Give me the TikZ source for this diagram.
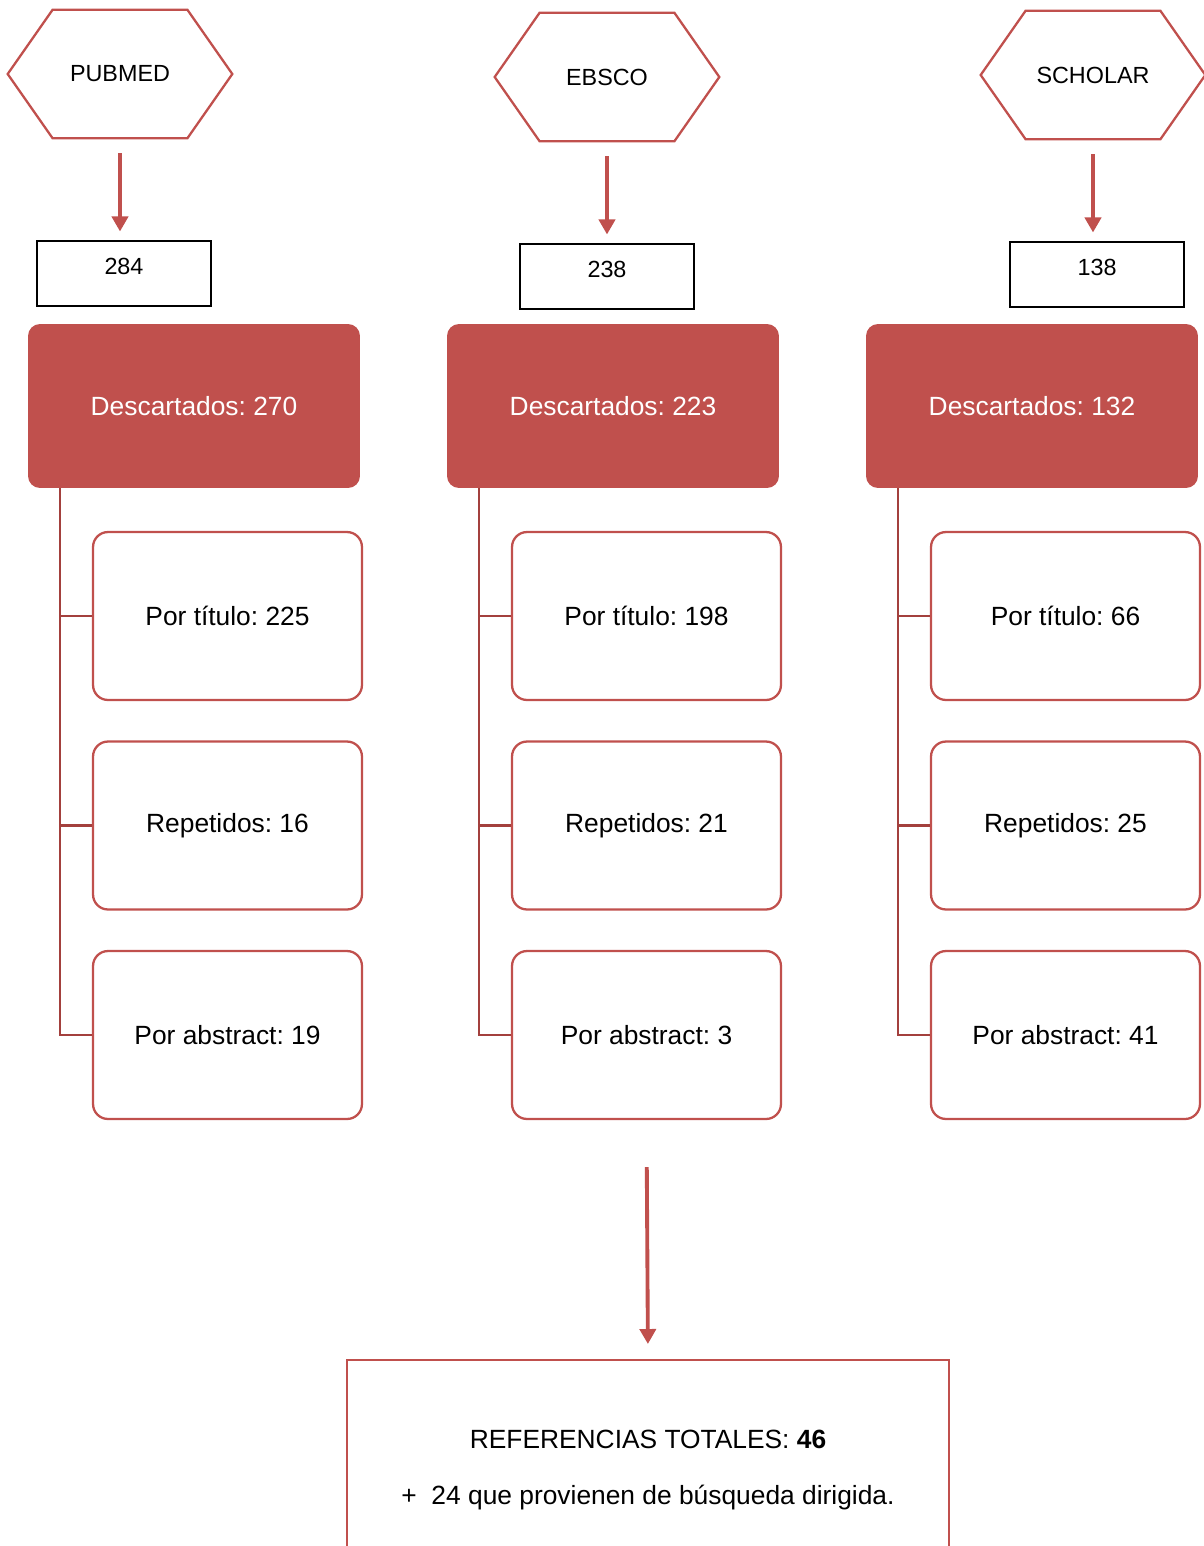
\documentclass[tikz,border=0pt]{standalone}
\usepackage{fontspec}
\setmainfont{Liberation Sans}
\usetikzlibrary{arrows.meta}
\definecolor{rojo}{HTML}{C0504D}
\definecolor{rojoosc}{HTML}{A3403D}
\frenchspacing

\begin{document}
\begin{tikzpicture}[x=0.02cm, y=-0.02cm,
	hexnode/.style={minimum width=4.48cm, minimum height=2.56cm, inner sep=0pt, font=\fontsize{13.3}{16}\selectfont},
	hexline/.style={draw=rojo, line width=1.3pt, line join=miter},
	numbox/.style={draw=black, line width=0.6pt, minimum width=3.48cm, minimum height=1.3cm, inner sep=0pt, text depth=0.3cm, font=\fontsize{13.3}{16}\selectfont},
	descbox/.style={fill=rojo, rounded corners=0.24cm, minimum width=6.64cm, minimum height=3.28cm, inner sep=0pt, text=white, font=\fontsize{15}{18}\selectfont},
	subbox/.style={draw=rojo, line width=1.3pt, rounded corners=0.3cm, minimum width=5.38cm, minimum height=3.36cm, inner sep=0pt, font=\fontsize{15}{18}\selectfont},
	totalbox/.style={draw=rojo, line width=1.3pt, minimum width=12.04cm, minimum height=4.4cm, anchor=north, align=center, font=\fontsize{15}{18}\selectfont},
	flecha/.style={draw=rojo, line width=2.2pt, -{Triangle[width=0.32cm, length=0.3cm]}},
	rama/.style={draw=rojoosc, line width=1.3pt}]
	% Rahmen (Seite)
	\clip (0,0) rectangle (1204,1546);
	
	% Spalten: Datenbank, Treffer, Descartados und Unterteilung
	\foreach \col/\hx/\nx/\dy/\name/\num/\ndesc/\ntit/\nrep/\nabs in {
		1/120/124/0/PUBMED/284/270/225/16/19,
		2/607/607/3/EBSCO/238/223/198/21/3,
		3/1093/1097/1/SCHOLAR/138/132/66/25/41} {
		% Sechseck
		\node[hexnode] (hex\col) at (\hx, 74+\dy) {\name};
		\draw[hexline] (hex\col.west) -- ([xshift=0.9cm]hex\col.north west) -- ([xshift=-0.9cm]hex\col.north east)
			-- (hex\col.east) -- ([xshift=-0.9cm]hex\col.south east) -- ([xshift=0.9cm]hex\col.south west) -- cycle;
		% Treffer
		\node[numbox] (num\col) at (\nx, 273.5+\dy) {\num};
		\draw[flecha, shorten <=0.3cm, shorten >=0.18cm] (hex\col.south) -- (hex\col.south |- num\col.north);
		% Descartados
		\node[descbox] (desc\col) at ({194+419*(\col-1)}, 406) {Descartados: \ndesc};
		% Unterteilung
		\foreach \j/\lab in {1/Por título: \ntit, 2/Repetidos: \nrep, 3/Por abstract: \nabs} {
			\node[subbox] (sub\col-\j) at ({227.5+419*(\col-1)}, {616+209.5*(\j-1)}) {\lab};
			\draw[rama] ([xshift=0.64cm]desc\col.south west) |- (sub\col-\j.west);
		}
	}
	
	% Gesamt
	\node[totalbox] (total) at (648,1359) {REFERENCIAS TOTALES: \textbf{46}\\[13.8pt] +\ \ 24 que provienen de búsqueda dirigida.};
	\draw[flecha, shorten <=0.94cm, shorten >=0.3cm] (sub2-3.south) -- (total.north);
\end{tikzpicture}
\end{document}
